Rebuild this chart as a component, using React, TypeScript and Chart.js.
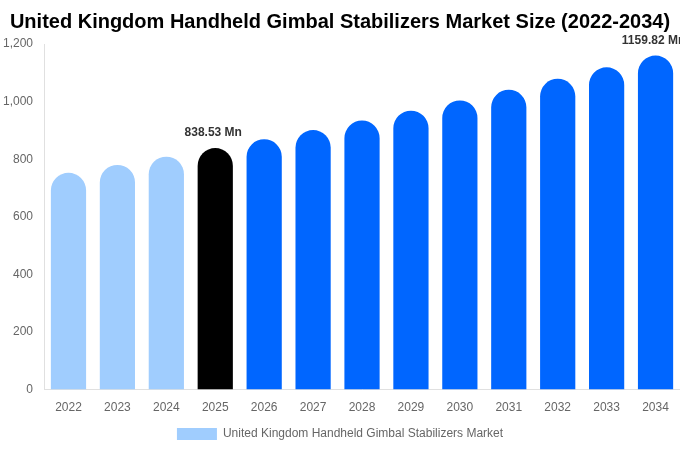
import React, { useEffect, useRef } from 'react';
import { Chart, registerables } from 'chart.js';

Chart.register(...registerables);

const years = ['2022', '2023', '2024', '2025', '2026', '2027', '2028', '2029', '2030', '2031', '2032', '2033', '2034'];
const marketSize = [752.6, 780.2, 808.8, 838.53, 869.3, 901.2, 934.3, 968.6, 1004.2, 1041.1, 1079.3, 1118.9, 1159.82];
const barColors = [
  '#a0cdfe', '#a0cdfe', '#a0cdfe', '#000000', '#0066ff', '#0066ff', '#0066ff',
  '#0066ff', '#0066ff', '#0066ff', '#0066ff', '#0066ff', '#0066ff',
];
const labelledYears = ['2025', '2034'];

const valueLabels = {
  id: 'valueLabels',
  afterDatasetsDraw(chart: Chart) {
    const ctx = chart.ctx;
    const meta = chart.getDatasetMeta(0);
    ctx.save();
    ctx.font = 'bold 12px "Liberation Sans", Arial, sans-serif';
    ctx.fillStyle = '#333333';
    ctx.textAlign = 'center';
    ctx.textBaseline = 'bottom';
    meta.data.forEach((bar: any, i: number) => {
      if (!labelledYears.includes(years[i])) return;
      ctx.fillText(`${marketSize[i]} Mn`, bar.x - 2, bar.y - 9);
    });
    ctx.restore();
  },
};

const App: React.FC = () => {
  const chartRef = useRef<HTMLCanvasElement>(null);
  const chartInstance = useRef<Chart>();

  useEffect(() => {
    document.body.style.margin = '0';
    if (chartRef.current) {
      chartInstance.current = new Chart(chartRef.current, {
        type: 'bar',
        data: {
          labels: years,
          datasets: [
            {
              label: 'United Kingdom Handheld Gimbal Stabilizers Market',
              data: marketSize,
              backgroundColor: barColors,
              borderWidth: 0,
              borderRadius: { topLeft: 20, topRight: 20, bottomLeft: 0, bottomRight: 0 },
              borderSkipped: false,
              barPercentage: 0.72,
              categoryPercentage: 1,
            },
          ],
        },
        options: {
          animation: false,
          responsive: false,
          layout: { padding: { left: 0, right: 0, top: 0, bottom: 0 } },
          font: { family: '"Liberation Sans", Arial, sans-serif' } as any,
          plugins: {
            title: {
              display: true,
              text: 'United Kingdom Handheld Gimbal Stabilizers Market Size (2022-2034)',
              color: '#000000',
              font: { size: 20, weight: 'bold', family: '"Liberation Sans", Arial, sans-serif' },
              padding: { top: 10, bottom: 10 },
            },
            legend: {
              position: 'bottom',
              labels: {
                color: '#666666',
                boxWidth: 40,
                font: { size: 12, family: '"Liberation Sans", Arial, sans-serif' },
                generateLabels: () => [
                  {
                    text: 'United Kingdom Handheld Gimbal Stabilizers Market',
                    fillStyle: '#a0cdfe',
                    strokeStyle: '#a0cdfe',
                    fontColor: '#666666',
                    lineWidth: 0,
                    hidden: false,
                    datasetIndex: 0,
                  },
                ],
              },
            },
            tooltip: { enabled: false },
          },
          scales: {
            x: {
              grid: { display: false },
              border: { color: '#e0e0e0' },
              ticks: { color: '#666666', font: { size: 12, family: '"Liberation Sans", Arial, sans-serif' } },
            },
            y: {
              min: 0,
              max: 1200,
              grid: { display: false },
              border: { color: '#e0e0e0' },
              ticks: {
                stepSize: 200,
                color: '#666666',
                font: { size: 12, family: '"Liberation Sans", Arial, sans-serif' },
              },
            },
          },
        },
        plugins: [valueLabels],
      });
    }

    return () => {
      if (chartInstance.current) {
        chartInstance.current.destroy();
      }
    };
  }, []);

  return <canvas ref={chartRef} width={680} height={450} />;
};

export default App;
